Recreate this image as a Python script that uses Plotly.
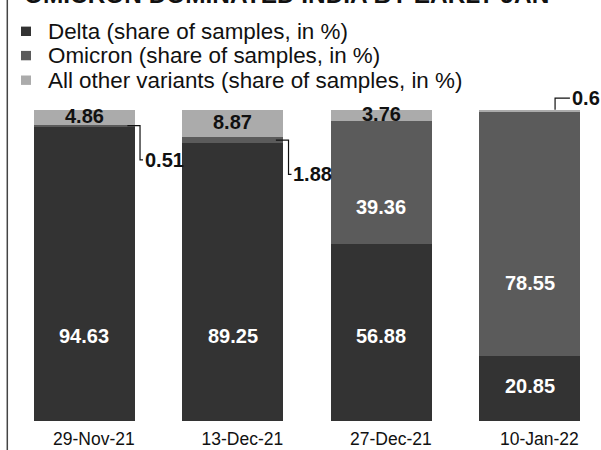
import plotly.graph_objects as go

# ---- data ----
dates = ["29-Nov-21", "13-Dec-21", "27-Dec-21", "10-Jan-22"]
delta = [94.63, 89.25, 56.88, 20.85]
omicron = [0.51, 1.88, 39.36, 78.55]
others = [4.86, 8.87, 3.76, 0.6]
series_names = [
    "Delta (share of samples, in %)",
    "Omicron (share of samples, in %)",
    "All other variants (share of samples, in %)",
]
title_text = "OMICRON DOMINATED INDIA BY EARLY JAN"

# ---- styling / layout ----
colors = ["#333333", "#5b5b5b", "#ababab"]
FONT = "'Liberation Sans', Arial, sans-serif"

W, H = 601, 450
ML, MR, MT, MB = 8, 0, 91, 29
PW, PH = W - ML - MR, H - MT - MB
UNIT = 148.5                       # px per category
XR = [-0.514, -0.514 + PW / UNIT]
YR = [0, 106]
BAR_W = 0.68
LBL = 20


def pxp(xp):
    return (xp - ML) / PW


def pyp(yp):
    return (H - MB - yp) / PH


x = list(range(len(dates)))

fig = go.Figure()
for vals, name, col in zip([delta, omicron, others], series_names, colors):
    fig.add_bar(
        x=x, y=vals, name=name, width=BAR_W,
        marker=dict(color=col, line=dict(width=0)),
        showlegend=False, hovertemplate="%{y}<extra>" + name + "</extra>",
    )

ann = []
shapes = []

# bar value labels
for i in x:
    d, o, r = delta[i], omicron[i], others[i]
    if d >= 10:
        ann.append(dict(x=i, y=min(d * 0.54, 27.3), xref="x", yref="y", text=f"<b>{d:g}</b>",
                        showarrow=False, font=dict(family=FONT, size=LBL, color="white")))
    if o >= 10:
        ann.append(dict(x=i, y=d + o * 0.3, xref="x", yref="y", text=f"<b>{o:g}</b>",
                        showarrow=False, font=dict(family=FONT, size=LBL, color="white")))
    elif o > 0:
        y0 = d + o / 2
        yl = y0 - 11
        shapes.append(dict(type="path", xref="x", yref="y",
                           path=f"M {i+0.29},{y0} L {i+0.375},{y0} L {i+0.375},{yl} L {i+0.395},{yl}",
                           line=dict(color="#111111", width=1.2)))
        ann.append(dict(x=i + 0.395, y=yl, xref="x", yref="y", xanchor="left", text=f"<b>{o:g}</b>",
                        showarrow=False, font=dict(family=FONT, size=LBL, color="#111111")))
    if r >= 2:
        ann.append(dict(x=i, y=100 - r / 2 + 0.5, xref="x", yref="y", text=f"<b>{r:g}</b>",
                        showarrow=False, font=dict(family=FONT, size=LBL, color="#111111")))
    elif r > 0:
        top = d + o + r
        yl = top + 3.7
        shapes.append(dict(type="path", xref="x", yref="y",
                           path=f"M {i+0.17},{top} L {i+0.17},{yl} L {i+0.27},{yl}",
                           line=dict(color="#111111", width=1.2)))
        ann.append(dict(x=i + 0.272, y=yl, xref="x", yref="y", xanchor="left", text=f"<b>{r:g}</b>",
                        showarrow=False, font=dict(family=FONT, size=LBL, color="#111111")))

# manual legend
leg_y = [31.3, 55.6, 80.2]
for name, col, cy in zip(series_names, colors, leg_y):
    shapes.append(dict(type="rect", xref="paper", yref="paper",
                       x0=pxp(21), x1=pxp(31), y0=pyp(cy + 4.7), y1=pyp(cy - 4.7),
                       fillcolor=col, line=dict(width=0)))
    ann.append(dict(x=pxp(45.5), y=pyp(cy), xref="paper", yref="paper", xanchor="left", yanchor="middle",
                    text=name, showarrow=False, font=dict(family=FONT, size=22.4, color="#111111")))

# cut-off title
ann.append(dict(x=pxp(22), y=pyp(10), xref="paper", yref="paper", xanchor="left", yanchor="bottom",
                text=f"<b>{title_text}</b>", showarrow=False,
                font=dict(family=FONT, size=24.4, color="#111111")))

# left border rule
shapes.append(dict(type="line", xref="paper", yref="paper", x0=pxp(7.3), x1=pxp(7.3), y0=-0.2, y1=1.5,
                   line=dict(color="#444444", width=1.5)))

fig.update_layout(
    width=W, height=H, barmode="stack",
    margin=dict(l=ML, r=MR, t=MT, b=MB, pad=0),
    paper_bgcolor="white", plot_bgcolor="white",
    annotations=ann, shapes=shapes, showlegend=False,
    xaxis=dict(range=XR, tickvals=[i + 0.064 for i in x], ticktext=dates, ticks="",
               showline=False, showgrid=False, zeroline=False, automargin=False,
               ticklabelstandoff=5,
               tickfont=dict(family=FONT, size=17.5, color="#111111"), fixedrange=True),
    yaxis=dict(range=YR, visible=False, showgrid=False, zeroline=False, fixedrange=True),
)

fig.write_html(
    "out.html",
    config={"displayModeBar": False},
    post_script="document.body.style.margin='0';document.body.style.overflow='hidden';",
)
